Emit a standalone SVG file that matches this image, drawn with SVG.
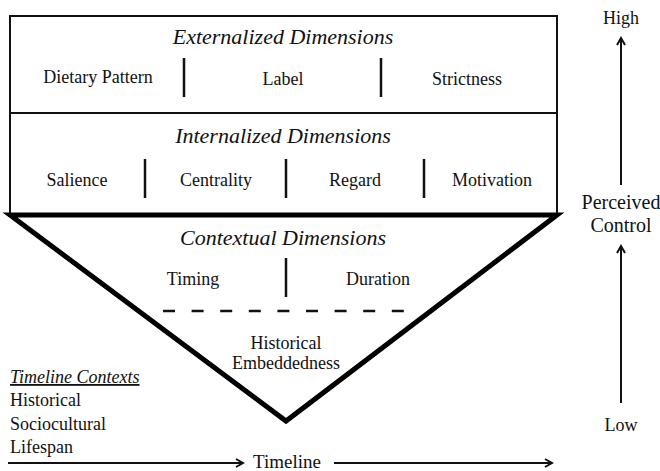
<svg xmlns="http://www.w3.org/2000/svg" width="660" height="471" viewBox="0 0 660 471">
<defs>
<marker id="ah" markerWidth="10" markerHeight="10" refX="8" refY="5" orient="auto" markerUnits="userSpaceOnUse">
<path d="M1,1 L8,5 L1,9" fill="none" stroke="#111" stroke-width="2"/>
</marker>
</defs>
<rect width="660" height="471" fill="#fff"/>
<g id="externalized" fill="#111">
<rect x="10" y="16" width="547" height="97" fill="none" stroke="#111" stroke-width="2"/>
<text font-family="Liberation Serif" font-size="22" font-style="italic" text-anchor="middle" x="283" y="44">Externalized Dimensions</text>
<text font-family="Liberation Serif" font-size="18" text-anchor="middle" x="98" y="83">Dietary Pattern</text>
<text font-family="Liberation Serif" font-size="18" text-anchor="middle" x="283" y="85">Label</text>
<text font-family="Liberation Serif" font-size="18" text-anchor="middle" x="467" y="85">Strictness</text>
<line stroke="#111" stroke-width="2.5" x1="184" y1="58" x2="184" y2="97"/>
<line stroke="#111" stroke-width="2.5" x1="381" y1="58" x2="381" y2="97"/>
</g>
<g id="internalized" fill="#111">
<rect x="10" y="113" width="547" height="101" fill="none" stroke="#111" stroke-width="2"/>
<text font-family="Liberation Serif" font-size="22" font-style="italic" text-anchor="middle" x="283" y="143">Internalized Dimensions</text>
<text font-family="Liberation Serif" font-size="18" text-anchor="middle" x="77" y="186">Salience</text>
<text font-family="Liberation Serif" font-size="18" text-anchor="middle" x="216" y="186">Centrality</text>
<text font-family="Liberation Serif" font-size="18" text-anchor="middle" x="355" y="186">Regard</text>
<text font-family="Liberation Serif" font-size="18" text-anchor="middle" x="492" y="186">Motivation</text>
<line stroke="#111" stroke-width="2.5" x1="145" y1="159" x2="145" y2="198"/>
<line stroke="#111" stroke-width="2.5" x1="286" y1="159" x2="286" y2="198"/>
<line stroke="#111" stroke-width="2.5" x1="424" y1="159" x2="424" y2="198"/>
</g>
<g id="contextual" fill="#111">
<path d="M10,215 L557,215 L286,421 Z" fill="none" stroke="#000" stroke-width="5" stroke-linejoin="miter"/>
<text font-family="Liberation Serif" font-size="22" font-style="italic" text-anchor="middle" x="283" y="245">Contextual Dimensions</text>
<text font-family="Liberation Serif" font-size="18" text-anchor="middle" x="193" y="285">Timing</text>
<text font-family="Liberation Serif" font-size="18" text-anchor="middle" x="378" y="285">Duration</text>
<line stroke="#111" stroke-width="2.5" x1="286" y1="258" x2="286" y2="297"/>
<line x1="163" y1="311" x2="408" y2="311" stroke="#111" stroke-width="2.5" stroke-dasharray="12,16.6"/>
<text font-family="Liberation Serif" font-size="18" text-anchor="middle" x="286" y="349">Historical</text>
<text font-family="Liberation Serif" font-size="18" text-anchor="middle" x="286" y="369">Embeddedness</text>
</g>
<g id="timeline-contexts" fill="#111">
<text font-family="Liberation Serif" font-size="18" x="10" y="383" font-style="italic" text-decoration="underline">Timeline Contexts</text>
<text font-family="Liberation Serif" font-size="18" x="10" y="406">Historical</text>
<text font-family="Liberation Serif" font-size="18" x="10" y="430">Sociocultural</text>
<text font-family="Liberation Serif" font-size="18" x="10" y="453">Lifespan</text>
</g>
<g id="timeline" fill="#111">
<text font-family="Liberation Serif" font-size="19" text-anchor="middle" x="287" y="468">Timeline</text>
</g>
<g id="control-labels" fill="#111">
<text font-family="Liberation Serif" font-size="18" text-anchor="middle" x="621" y="24">High</text>
<text font-family="Liberation Serif" font-size="20" text-anchor="middle" x="621" y="209">Perceived</text>
<text font-family="Liberation Serif" font-size="20" text-anchor="middle" x="621" y="232">Control</text>
<text font-family="Liberation Serif" font-size="18" text-anchor="middle" x="621" y="431">Low</text>
</g>
<g id="connectors" stroke="#111" stroke-width="2" fill="none">
<line x1="8" y1="463" x2="243" y2="463" marker-end="url(#ah)"/>
<line x1="334" y1="463" x2="552" y2="463" marker-end="url(#ah)"/>
<line x1="621" y1="185" x2="621" y2="38" marker-end="url(#ah)"/>
<line x1="621" y1="403" x2="621" y2="246" marker-end="url(#ah)"/>
</g>
</svg>
